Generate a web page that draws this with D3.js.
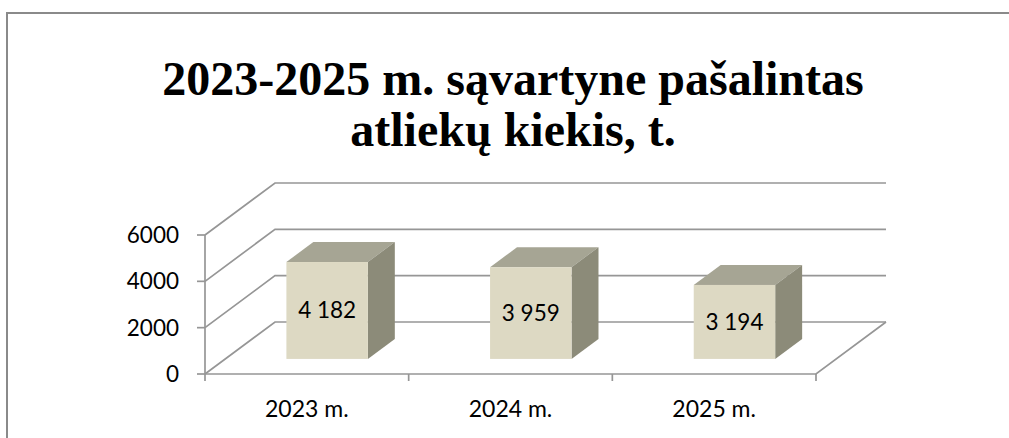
<!DOCTYPE html>
<html>
<head>
<meta charset="utf-8">
<script src="https://cdn.jsdelivr.net/npm/d3@7"></script>
<style>
  body { margin: 0; background: #fff; }
  svg { display: block; }
</style>
</head>
<body>
<script>
// data
var titleLines = ["2023-2025 m. sąvartyne pašalintas", "atliekų kiekis, t."];
var categories = ["2023 m.", "2024 m.", "2025 m."];
var values = [4182, 3959, 3194];
var yTicks = [0, 2000, 4000, 6000];

var width = 1009, height = 438;
// front plane of the 3d box
var ox = 205, oy = 374, plotW = 611;
var depthX = 70, depthY = 52;       // offset of the back wall
var barFront = 0.29, barBack = 0.675; // bar depth inside the box

var svg = d3.select("body").append("svg")
  .attr("width", width)
  .attr("height", height);

// outer frame
svg.append("rect")
  .attr("x", 7).attr("y", 13)
  .attr("width", 1100).attr("height", 600)
  .attr("fill", "none")
  .attr("stroke", "#8a8a8a")
  .attr("stroke-width", 2);

// title
svg.append("text")
  .attr("text-anchor", "middle")
  .style("font-family", "'Liberation Serif', 'Times New Roman', serif")
  .style("font-weight", "bold")
  .style("font-size", "48px")
  .selectAll("tspan")
  .data(titleLines)
  .enter().append("tspan")
  .attr("x", 513)
  .attr("y", function(d, i) { return 95 + i * 51; })
  .text(function(d) { return d; });

var x = d3.scaleBand()
  .domain(categories)
  .range([0, plotW])
  .paddingInner(0.6)
  .paddingOuter(0.3);

var y = d3.scaleLinear()
  .domain([0, 6000])
  .range([oy, oy - 139]);

// project a point (front-plane x offset, value, depth 0..1) to screen
function P(px, v, d) {
  return [ox + px + depthX * d, y(v) - depthY * d];
}

var gridColor = "#969696";
var grid = svg.append("g")
  .attr("fill", "none")
  .attr("stroke", gridColor)
  .attr("stroke-width", 1.7);

// left wall + back wall gridlines
yTicks.forEach(function(t) {
  var a = P(0, t, 0), b = P(0, t, 1), c = P(plotW, t, 1);
  grid.append("path").attr("d", d3.line()([a, b, c]));
});

// floor: front edge and right edge
grid.append("path").attr("d", d3.line()([P(0, 0, 0), P(plotW, 0, 0), P(plotW, 0, 1)]));

// y axis (front vertical line + ticks)
grid.append("path").attr("d", d3.line()([P(0, 6000, 0), P(0, 0, 0)]));
yTicks.forEach(function(t) {
  grid.append("path").attr("d", d3.line()([[ox - 8, y(t)], [ox, y(t)]]));
});

// x ticks at category boundaries
var step = x.step();
d3.range(categories.length + 1).forEach(function(i) {
  grid.append("path").attr("d", d3.line()([[ox + i * step, oy], [ox + i * step, oy + 7]]));
});

var labelFont = "Lato, 'Open Sans', sans-serif";

// y tick labels
svg.append("g").selectAll("text")
  .data(yTicks)
  .enter().append("text")
  .attr("x", ox - 26)
  .attr("y", function(d) { return y(d); })
  .attr("dy", "0.35em")
  .attr("text-anchor", "end")
  .style("font-family", labelFont)
  .style("font-size", "22.5px")
  .attr("fill", "#000")
  .text(function(d) { return d; });

// x category labels
svg.append("g").selectAll("text")
  .data(categories)
  .enter().append("text")
  .attr("x", function(d) { return ox + x(d) + x.bandwidth() / 2; })
  .attr("y", 417)
  .attr("text-anchor", "middle")
  .style("font-family", labelFont)
  .style("font-size", "23px")
  .attr("fill", "#000")
  .text(function(d) { return d; });

// 3d bars
var bars = svg.append("g");
var fmt = d3.formatLocale({ decimal: ",", thousands: " ", grouping: [3], currency: ["", ""] }).format(",d");

categories.forEach(function(c, i) {
  var v = values[i];
  var x0 = x(c), x1 = x(c) + x.bandwidth();
  var g = bars.append("g");

  // top face
  g.append("path")
    .attr("d", d3.line()([P(x0, v, barFront), P(x1, v, barFront), P(x1, v, barBack), P(x0, v, barBack)]) + "Z")
    .attr("fill", "#a6a594");
  // right side face
  g.append("path")
    .attr("d", d3.line()([P(x1, v, barFront), P(x1, v, barBack), P(x1, 0, barBack), P(x1, 0, barFront)]) + "Z")
    .attr("fill", "#8c8b79");
  // front face
  var tl = P(x0, v, barFront), br = P(x1, 0, barFront);
  g.append("rect")
    .attr("x", tl[0]).attr("y", tl[1])
    .attr("width", br[0] - tl[0]).attr("height", br[1] - tl[1])
    .attr("fill", "#ddd9c3");

  // value label
  g.append("text")
    .attr("x", (tl[0] + br[0]) / 2)
    .attr("y", (tl[1] + br[1]) / 2)
    .attr("dy", "0.35em")
    .attr("text-anchor", "middle")
    .style("font-family", labelFont)
    .style("font-size", "22.5px")
    .attr("fill", "#000")
    .text(fmt(v));
});
</script>
</body>
</html>
